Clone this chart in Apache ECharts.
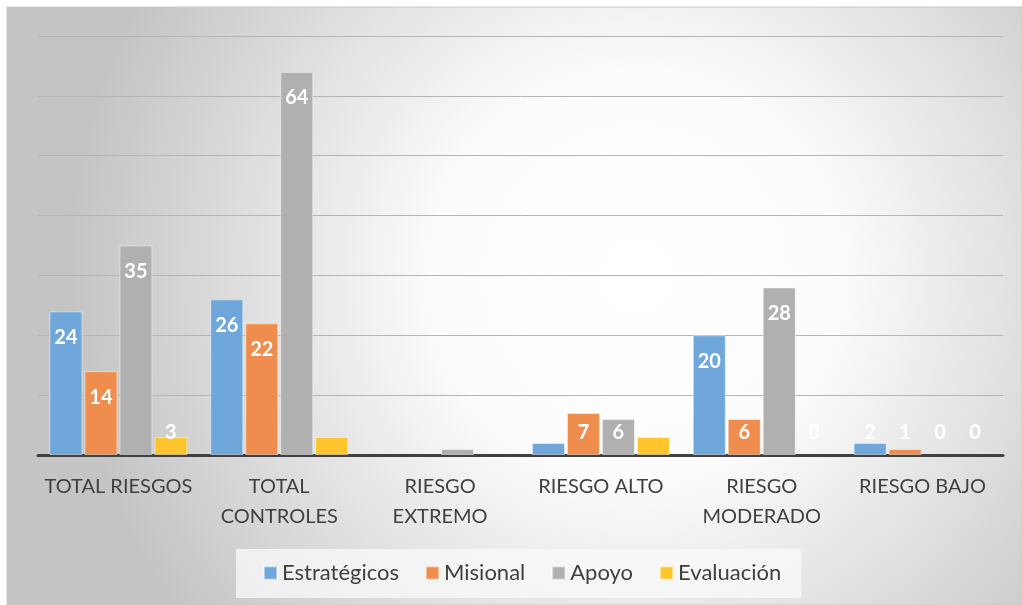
<!DOCTYPE html>
<html style="height: 100%">
<head>
<meta charset="utf-8">
</head>
<body style="height: 100%; margin: 0; background: #ffffff">
	<div id="container" style="width: 1022px; height: 605px"></div>
	<script type="text/javascript"
		src="https://cdn.jsdelivr.net/npm/echarts/dist/echarts.min.js"></script>
	<script type="text/javascript">
		var categories = [ 'TOTAL RIESGOS', 'TOTAL\nCONTROLES', 'RIESGO\nEXTREMO',
				'RIESGO ALTO', 'RIESGO\nMODERADO', 'RIESGO BAJO' ];
		var seriesNames = [ 'Estratégicos', 'Misional', 'Apoyo', 'Evaluación' ];
		var estrategicos = [ 24, 26, 0, 2, 20, 2 ];
		var misional = [ 14, 22, 0, 7, 6, 1 ];
		var apoyo = [ 35, 64, 1, 6, 28, 0 ];
		var evaluacion = [ 3, 3, 0, 3, 0, 0 ];
		// which data labels appear in the picture
		var shownEstrategicos = [ 1, 1, 0, 0, 1, 1 ];
		var shownMisional = [ 1, 1, 0, 1, 1, 1 ];
		var shownApoyo = [ 1, 1, 0, 1, 1, 1 ];
		var shownEvaluacion = [ 1, 0, 0, 0, 1, 1 ];

		var colors = [ '#6fa7db', '#ee8d4d', '#b0b0b0', '#fec62c' ];
		var font = 'Lato';

		function buildData(values, shown) {
			return values.map(function(v, i) {
				var small = v < 9;
				return {
					value : v,
					itemStyle : { borderWidth : v === 0 ? 0 : 1 },
					label : {
						show : !!shown[i],
						position : small ? 'insideBottom' : 'insideTop',
						distance : small ? 12 : 16
					}
				};
			});
		}

		var valueLists = [ estrategicos, misional, apoyo, evaluacion ];
		var shownLists = [ shownEstrategicos, shownMisional, shownApoyo, shownEvaluacion ];

		var series = seriesNames.map(function(name, k) {
			return {
				name : name,
				type : 'bar',
				barWidth : 33,
				barGap : '6%',
				itemStyle : {
					color : colors[k],
					borderColor : 'rgba(255,255,255,0.45)',
					borderWidth : 1
				},
				label : {
					color : '#ffffff',
					fontFamily : font,
					fontWeight : 'bold',
					fontSize : 20
				},
				data : buildData(valueLists[k], shownLists[k])
			};
		});

		var dom = document.getElementById("container");
		var myChart = echarts.init(dom);
		var option = {
			animation : false,
			color : colors,
			graphic : [ {
				type : 'rect',
				z : -10,
				silent : true,
				shape : { x : 7, y : 7, width : 1015, height : 598 },
				style : {
					fill : new echarts.graphic.RadialGradient(0.62, 0.45, 0.95, [
						{ offset : 0, color : '#ffffff' },
						{ offset : 0.35, color : '#fcfcfc' },
						{ offset : 1, color : '#c4c4c4' } ]),
					stroke : '#c8c8c8',
					lineWidth : 1
				}
			} ],
			grid : {
				left : 38,
				right : 19,
				top : 36,
				bottom : 150
			},
			legend : {
				data : seriesNames,
				left : 236,
				top : 549,
				padding : [ 13, 20, 14, 27 ],
				backgroundColor : 'rgba(250,250,250,0.75)',
				itemWidth : 13,
				itemHeight : 13,
				itemGap : 26,
				icon : 'rect',
				textStyle : {
					fontFamily : font,
					fontSize : 22,
					color : '#404040'
				}
			},
			xAxis : [ {
				type : 'category',
				data : categories,
				axisTick : { show : false },
				axisLine : {
					lineStyle : { color : '#404040', width : 3 }
				},
				axisLabel : {
					fontFamily : font,
					fontSize : 20,
					color : '#404040',
					lineHeight : 30,
					margin : 17,
					interval : 0
				}
			} ],
			yAxis : [ {
				type : 'value',
				min : 0,
				max : 70,
				interval : 10,
				axisLabel : { show : false },
				axisLine : { show : false },
				axisTick : { show : false },
				splitLine : {
					lineStyle : { color : '#b5b5b5', width : 1 }
				}
			} ],
			series : series
		};
		myChart.setOption(option);
	</script>
</body>
</html>
